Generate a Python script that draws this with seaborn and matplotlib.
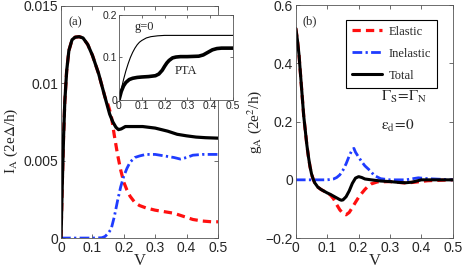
import numpy as np
import pandas as pd
import matplotlib
matplotlib.use('Agg')
import matplotlib.pyplot as plt
import seaborn as sns

# Panel (a): Andreev current vs bias
v_tot = [0, 0.004, 0.008, 0.012, 0.018, 0.025, 0.035, 0.045, 0.058, 0.07, 0.085, 0.1, 0.12, 0.14,
         0.155, 0.165, 0.175, 0.183, 0.192, 0.205, 0.225, 0.26, 0.3, 0.34, 0.37, 0.4, 0.43, 0.46, 0.5]
i_tot = [0, 0.0035, 0.0065, 0.0088, 0.0108, 0.0121, 0.0128, 0.01297, 0.0130, 0.01292, 0.0125, 0.0118,
         0.0106, 0.0091, 0.0080, 0.0075, 0.00715, 0.0070, 0.00705, 0.0072, 0.0072, 0.0072, 0.0071,
         0.0069, 0.0067, 0.0066, 0.00652, 0.00648, 0.00645]

v_el = [0, 0.004, 0.008, 0.012, 0.018, 0.025, 0.035, 0.045, 0.058, 0.07, 0.085, 0.1, 0.12, 0.14,
        0.15, 0.16, 0.17, 0.18, 0.19, 0.2, 0.21, 0.22, 0.235, 0.25, 0.27, 0.3, 0.33, 0.36, 0.39,
        0.42, 0.45, 0.48, 0.5]
i_el = [0, 0.0035, 0.0065, 0.0088, 0.0108, 0.0121, 0.0128, 0.01297, 0.0130, 0.01292, 0.0125, 0.0118,
        0.0106, 0.0091, 0.0086, 0.0079, 0.0066, 0.0054, 0.0044, 0.0036, 0.0031, 0.0027, 0.0023,
        0.0021, 0.00195, 0.0018, 0.0017, 0.0016, 0.0014, 0.0012, 0.0011, 0.00105, 0.00105]

v_in = [0, 0.05, 0.1, 0.13, 0.14, 0.15, 0.16, 0.17, 0.18, 0.19, 0.2, 0.21, 0.22, 0.235, 0.25, 0.27,
        0.3, 0.33, 0.36, 0.38, 0.4, 0.42, 0.45, 0.48, 0.5]
i_in = [0, 0, 0, 0.00002, 0.0001, 0.0003, 0.0006, 0.0014, 0.0024, 0.0033, 0.0040, 0.0045, 0.0049,
        0.0052, 0.0053, 0.0054, 0.0054, 0.0053, 0.0052, 0.0051, 0.0052, 0.00535, 0.0054, 0.0054, 0.0054]

# Inset: g=0 and PTA currents
v_g0 = [0, 0.01, 0.02, 0.03, 0.04, 0.05, 0.06, 0.07, 0.08, 0.09, 0.1, 0.12, 0.14, 0.17, 0.2, 0.3, 0.4, 0.5]
i_g0 = [0, 0.025, 0.048, 0.068, 0.085, 0.1, 0.112, 0.122, 0.13, 0.136, 0.14, 0.146, 0.149, 0.151,
        0.152, 0.152, 0.152, 0.152]
v_pta = [0, 0.01, 0.02, 0.03, 0.045, 0.06, 0.08, 0.1, 0.13, 0.16, 0.175, 0.19, 0.2, 0.21, 0.22,
         0.235, 0.25, 0.27, 0.3, 0.35, 0.37, 0.39, 0.41, 0.43, 0.45, 0.5]
i_pta = [0, 0.02, 0.033, 0.041, 0.048, 0.051, 0.053, 0.054, 0.055, 0.057, 0.061, 0.07, 0.079, 0.087,
         0.093, 0.099, 0.101, 0.102, 0.102, 0.103, 0.106, 0.112, 0.118, 0.121, 0.122, 0.122]

# Panel (b): differential conductance
v_gt = [0, 0.005, 0.01, 0.015, 0.02, 0.025, 0.03, 0.035, 0.04, 0.045, 0.05, 0.055, 0.06, 0.07, 0.08,
        0.09, 0.1, 0.11, 0.12, 0.13, 0.14, 0.145, 0.15, 0.16, 0.17, 0.18, 0.19, 0.2, 0.21, 0.22,
        0.24, 0.27, 0.3, 0.33, 0.35, 0.37, 0.4, 0.45, 0.5]
g_tot = [0.52, 0.48, 0.43, 0.36, 0.29, 0.22, 0.17, 0.12, 0.08, 0.046, 0.02, 0.003, -0.01, -0.025,
         -0.033, -0.039, -0.045, -0.050, -0.056, -0.062, -0.068, -0.07, -0.069, -0.058, -0.038,
         -0.012, 0.006, 0.011, 0.008, 0.003, 0.0, -0.004, -0.006, -0.009, -0.01, -0.008, 0.0, 0.0, 0.0]

v_gel = [0, 0.005, 0.01, 0.015, 0.02, 0.025, 0.03, 0.035, 0.04, 0.045, 0.05, 0.055, 0.06, 0.07, 0.08,
         0.09, 0.1, 0.11, 0.12, 0.13, 0.14, 0.15, 0.16, 0.17, 0.18, 0.19, 0.2, 0.21, 0.22, 0.23,
         0.24, 0.26, 0.3, 0.35, 0.38, 0.42, 0.5]
g_el = [0.52, 0.48, 0.43, 0.36, 0.29, 0.22, 0.17, 0.12, 0.08, 0.046, 0.02, 0.003, -0.01, -0.025,
        -0.033, -0.039, -0.045, -0.052, -0.065, -0.085, -0.103, -0.115, -0.12, -0.112, -0.095,
        -0.077, -0.06, -0.046, -0.033, -0.022, -0.014, -0.007, -0.006, -0.011, -0.008, -0.003, 0.0]

v_gin = [0, 0.05, 0.1, 0.12, 0.13, 0.14, 0.15, 0.16, 0.17, 0.18, 0.185, 0.19, 0.2, 0.21, 0.22, 0.235,
         0.25, 0.27, 0.3, 0.35, 0.39, 0.42, 0.5]
g_in = [0, 0, 0, 0.003, 0.008, 0.017, 0.033, 0.055, 0.082, 0.105, 0.108, 0.095, 0.078, 0.062, 0.048,
        0.033, 0.015, 0.004, 0.0, 0.0, 0.007, 0.004, 0.0]

sns.set_style('ticks')
plt.rcParams['font.family'] = ['Liberation Sans', 'DejaVu Sans']
plt.rcParams['mathtext.fontset'] = 'stix'
plt.rcParams['xtick.direction'] = 'in'
plt.rcParams['ytick.direction'] = 'in'
plt.rcParams['axes.linewidth'] = 0.6
plt.rcParams['axes.edgecolor'] = '#555555'

serif = ['Liberation Serif', 'DejaVu Serif']
RED = '#ff1010'
BLUE = '#1f3cff'

fig = plt.figure(figsize=(4.63, 2.73), dpi=100)
ax1 = fig.add_axes([0.1318, 0.128, 0.339, 0.851])
ax2 = fig.add_axes([0.639, 0.128, 0.339, 0.853])
axin = fig.add_axes([0.257, 0.634, 0.246, 0.311])


def style_axis(ax, fs):
    ax.tick_params(which='both', top=True, right=True, length=3, width=0.6,
                   labelsize=fs, pad=2, color='#555555')
    for s in ax.spines.values():
        s.set_visible(True)


# panel (a)
sns.lineplot(x=v_el, y=i_el, ax=ax1, color=RED, lw=2.3, sort=False,
             linestyle=(0, (2.6, 1.6)))
sns.lineplot(x=v_in, y=i_in, ax=ax1, color=BLUE, lw=2.0, sort=False,
             linestyle=(0, (3.5, 1.2, 0.8, 1.2)))
sns.lineplot(x=v_tot, y=i_tot, ax=ax1, color='black', lw=2.3, sort=False)
ax1.set_xlim(0, 0.5)
ax1.set_ylim(0, 0.015)
ax1.set_xticks([0, 0.1, 0.2, 0.3, 0.4, 0.5])
ax1.set_xticklabels(['0', '0.1', '0.2', '0.3', '0.4', '0.5'])
ax1.set_yticks([0, 0.005, 0.01, 0.015])
ax1.set_yticklabels(['0', '0.005', '0.01', '0.015'])
style_axis(ax1, 10)
ax1.set_xlabel('V', family=serif, fontsize=12)
ax1.xaxis.set_label_coords(0.5, -0.065)
ax1.set_ylabel(r'I$_{\mathrm{A}}$ (2e$\Delta$/h)', family=serif, fontsize=11)
ax1.yaxis.set_label_coords(-0.26, 0.42)
ax1.text(0.045, 0.955, '(a)', transform=ax1.transAxes, family=serif, fontsize=9, va='top')

# inset
sns.lineplot(x=v_g0, y=i_g0, ax=axin, color='black', lw=0.8, sort=False)
sns.lineplot(x=v_pta, y=i_pta, ax=axin, color='black', lw=2.6, sort=False)
axin.set_xlim(0, 0.5)
axin.set_ylim(0, 0.2)
axin.set_xticks([0, 0.1, 0.2, 0.3, 0.4, 0.5])
axin.set_xticklabels(['0', '0.1', '0.2', '0.3', '0.4', '0.5'])
axin.set_yticks([0, 0.1, 0.2])
axin.set_yticklabels(['0', '0.1', '0.2'])
style_axis(axin, 7.5)
axin.tick_params(pad=1, length=2)
axin.text(0.07, 0.165, 'g=0', family=serif, fontsize=9)
axin.text(0.245, 0.06, 'PTA', family=serif, fontsize=9)

# panel (b)
sns.lineplot(x=v_gel, y=g_el, ax=ax2, color=RED, lw=2.3, sort=False,
             linestyle=(0, (2.6, 1.6)), label='Elastic')
sns.lineplot(x=v_gin, y=g_in, ax=ax2, color=BLUE, lw=2.0, sort=False,
             linestyle=(0, (3.5, 1.2, 0.8, 1.2)), label='Inelastic')
sns.lineplot(x=v_gt, y=g_tot, ax=ax2, color='black', lw=2.2, sort=False, label='Total')
ax2.set_xlim(0, 0.5)
ax2.set_ylim(-0.2, 0.6)
ax2.set_xticks([0, 0.1, 0.2, 0.3, 0.4, 0.5])
ax2.set_xticklabels(['0', '0.1', '0.2', '0.3', '0.4', '0.5'])
ax2.set_yticks([-0.2, 0, 0.2, 0.4, 0.6])
ax2.set_yticklabels(['\u22120.2', '0', '0.2', '0.4', '0.6'])
style_axis(ax2, 10)
ax2.set_xlabel('V', family=serif, fontsize=12)
ax2.xaxis.set_label_coords(0.5, -0.065)
ax2.set_ylabel(r'g$_{\mathrm{A}}$ (2e$^2$/h)', family=serif, fontsize=11)
ax2.yaxis.set_label_coords(-0.2, 0.5)
ax2.text(0.045, 0.955, '(b)', transform=ax2.transAxes, family=serif, fontsize=9, va='top')
ax2.text(0.27, 0.27, r'$\Gamma_{\mathrm{S}}\!=\!\Gamma_{\mathrm{N}}$', fontsize=11)
ax2.text(0.27, 0.17, r'$\mathrm{\varepsilon}_{\mathrm{d}}\!=\!0$', fontsize=11)
leg = ax2.legend(loc='upper right', bbox_to_anchor=(0.94, 0.965), fancybox=False,
                 edgecolor='black', framealpha=1, prop={'family': serif, 'size': 9},
                 handlelength=2.4, handletextpad=0.5, borderpad=0.5, labelspacing=0.8)
leg.get_frame().set_linewidth(0.8)

fig.savefig('out.png', dpi=100)
